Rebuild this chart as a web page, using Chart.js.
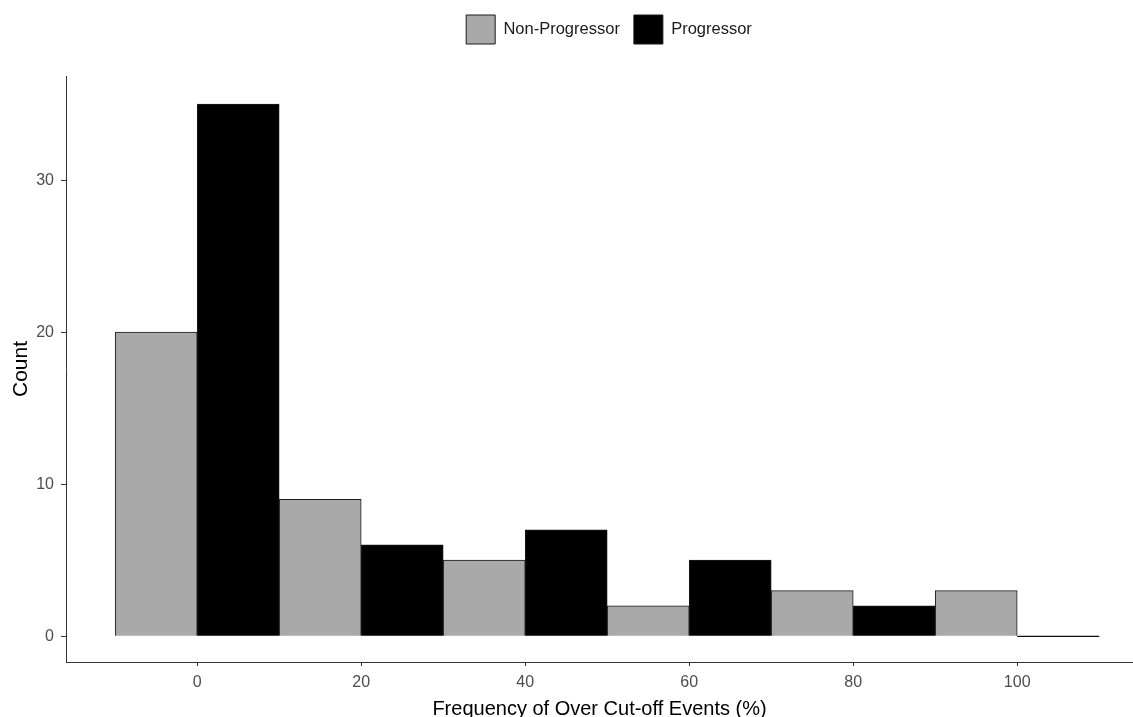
<!DOCTYPE html>
<html>
<head>
<meta charset="utf-8">
<script src="https://cdn.jsdelivr.net/npm/chart.js@4"></script>
<style>
  html, body { margin: 0; padding: 0; background: #fff; overflow: hidden; }
  .chart-box { width: 1133px; height: 730px; position: relative; }
</style>
</head>
<body>
<div class="chart-box"><canvas id="histChart"></canvas></div>
<script>
// Histogram bins (centre of each 20% bin) and counts per group
const binCenters = [0, 20, 40, 60, 80, 100];
const nonProgressorCounts = [20, 9, 5, 2, 3, 3];
const progressorCounts = [35, 6, 7, 5, 2, 0];
const xTickLabels = [0, 20, 40, 60, 80, 100];
const yTickLabels = [0, 10, 20, 30];

// dodge: left half of the bin = Non-Progressor, right half = Progressor
const halfBin = 5;
const npPoints = binCenters.map((c, i) => ({ x: c - halfBin, y: nonProgressorCounts[i] }));
const pPoints = binCenters.map((c, i) => ({ x: c + halfBin, y: progressorCounts[i] }));

const tickFont = { family: "'Liberation Sans', Arial, sans-serif", size: 16 };
const xTitleFont = { family: "'Liberation Sans', Arial, sans-serif", size: 20 };
const yTitleFont = { family: "'Liberation Sans', Arial, sans-serif", size: 21 };

// legend: extra space under it, and shift it over the panel like ggplot does
const legendTweak = {
    id: 'legendTweak',
    beforeInit(chart) {
        const origFit = chart.legend.fit;
        chart.legend.fit = function() {
            origFit.bind(chart.legend)();
            this.height += 22;
        };
    },
    afterLayout(chart) {
        chart.legend.left += 85;
    }
};

new Chart(document.getElementById('histChart').getContext('2d'), {
    type: 'bar',
    data: {
        datasets: [{
            label: 'Non-Progressor',
            data: npPoints,
            backgroundColor: '#a9a9a9',
            borderColor: '#1a1a1a',
            borderWidth: 1,
            grouped: false,
            barPercentage: 1,
            categoryPercentage: 1
        }, {
            label: 'Progressor',
            data: pPoints,
            backgroundColor: '#000000',
            borderColor: '#1a1a1a',
            borderWidth: 1,
            grouped: false,
            barPercentage: 1,
            categoryPercentage: 1,
            minBarLength: 1
        }]
    },
    options: {
        responsive: true,
        maintainAspectRatio: false,
        animation: false,
        layout: { padding: { top: 1, right: 0, left: 0, bottom: 0 } },
        plugins: {
            tooltip: { enabled: false },
            legend: {
                position: 'top',
                align: 'center',
                labels: {
                    boxWidth: 29,
                    boxHeight: 29,
                    padding: 14,
                    color: '#1a1a1a',
                    font: { family: tickFont.family, size: 16.5 }
                }
            }
        },
        scales: {
            x: {
                type: 'linear',
                offset: false,
                min: -16,
                max: 114.12,
                afterBuildTicks: (scale) => { scale.ticks = xTickLabels.map(v => ({ value: v })); },
                afterFit: (scale) => { scale.height = 68; },
                ticks: { color: '#4d4d4d', font: tickFont, padding: 7, maxRotation: 0 },
                grid: { display: true, offset: false, drawOnChartArea: false, drawTicks: true, tickLength: 4, color: '#333333' },
                border: { display: true, color: '#333333', width: 1 },
                title: { display: true, text: 'Frequency of Over Cut-off Events (%)', color: '#000', font: xTitleFont, padding: { top: 0, bottom: 9 } }
            },
            y: {
                type: 'linear',
                min: -1.7,
                max: 36.85,
                afterBuildTicks: (scale) => { scale.ticks = yTickLabels.map(v => ({ value: v })); },
                afterFit: (scale) => { scale.width = 66; },
                ticks: { color: '#4d4d4d', font: tickFont, padding: 7 },
                grid: { display: true, drawOnChartArea: false, drawTicks: true, tickLength: 5, color: '#333333' },
                border: { display: true, color: '#333333', width: 1 },
                title: { display: true, text: 'Count', color: '#000', font: yTitleFont, padding: { top: 9, bottom: 0 } }
            }
        }
    },
    plugins: [legendTweak]
});
</script>
</body>
</html>
